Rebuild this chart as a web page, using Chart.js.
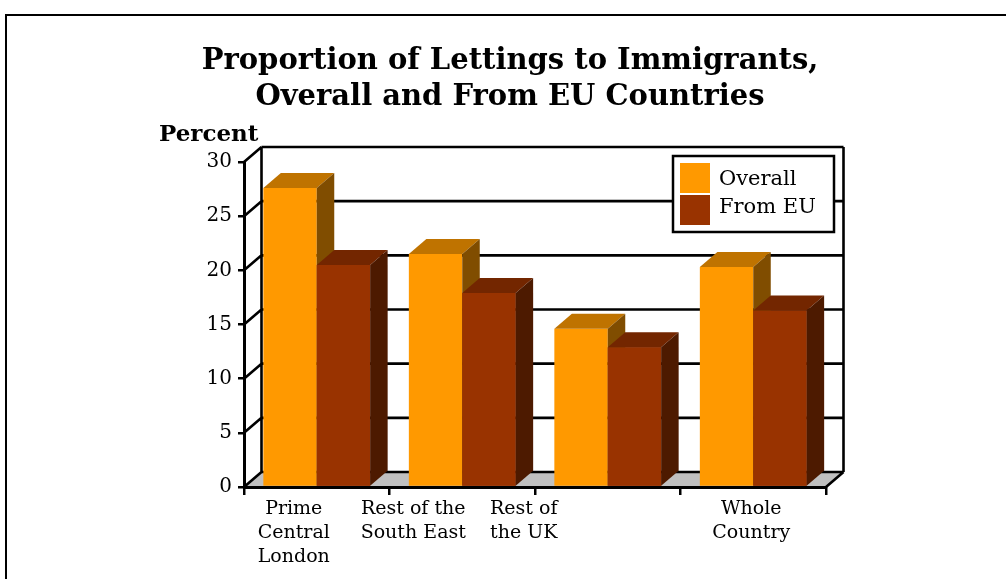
<!DOCTYPE html>
<html>
<head>
<meta charset="utf-8">
<script src="https://cdn.jsdelivr.net/npm/chart.js@4/dist/chart.umd.min.js"></script>
<style>
  html, body { margin: 0; padding: 0; background: #fff; }
</style>
</head>
<body>
<canvas id="chart" width="1006" height="579"></canvas>
<script>
const categories = [["Prime", "Central", "London"], ["Rest of the", "South East"], ["Rest of", "the UK"], ["Whole", "Country"]];
const seriesNames = ["Overall", "From EU"];
const overall = [27.6, 21.5, 14.6, 20.3];
const fromEU = [20.5, 17.9, 12.9, 16.3];
const yTicks = [0, 5, 10, 15, 20, 25, 30];
const titleLines = ["Proportion of Lettings to Immigrants,", "Overall and From EU Countries"];
const yAxisTitle = "Percent";

const colors = ["#ff9900", "#993300"];
const FONT = "DejaVu Serif";
// depth of the fake 3d box
const DX = 17.5, DY = -15;
// the source places its category labels off-centre
const labelNudge = [-23, -49, -84, -2];

function shade(hex, f) {
  const n = parseInt(hex.slice(1), 16);
  const r = Math.round(((n >> 16) & 255) * f);
  const g = Math.round(((n >> 8) & 255) * f);
  const b = Math.round((n & 255) * f);
  return `rgb(${r},${g},${b})`;
}

function drawFaces(ctx, bar, color) {
  const { x, y, base, width } = bar.getProps(["x", "y", "base", "width"], true);
  const l = x - width / 2, r = x + width / 2;
  ctx.fillStyle = shade(color, 0.75);
  ctx.beginPath();
  ctx.moveTo(l, y);
  ctx.lineTo(l + DX, y + DY);
  ctx.lineTo(r + DX, y + DY);
  ctx.lineTo(r, y);
  ctx.closePath();
  ctx.fill();
  ctx.fillStyle = shade(color, 0.5);
  ctx.beginPath();
  ctx.moveTo(r, y);
  ctx.lineTo(r + DX, y + DY);
  ctx.lineTo(r + DX, base + DY);
  ctx.lineTo(r, base);
  ctx.closePath();
  ctx.fill();
}

const boxPlugin = {
  id: "box3d",
  beforeDraw(chart) {
    const { ctx, chartArea: a } = chart;
    const y = chart.scales.y;
    ctx.save();
    // outer frame
    ctx.strokeStyle = "#000";
    ctx.lineWidth = 2;
    ctx.beginPath();
    ctx.moveTo(6, chart.height);
    ctx.lineTo(6, 15);
    ctx.lineTo(chart.width, 15);
    ctx.stroke();
    // floor
    ctx.fillStyle = "#c0c0c0";
    ctx.beginPath();
    ctx.moveTo(a.left, a.bottom);
    ctx.lineTo(a.right, a.bottom);
    ctx.lineTo(a.right + DX, a.bottom + DY);
    ctx.lineTo(a.left + DX, a.bottom + DY);
    ctx.closePath();
    ctx.fill();
    // back wall grid and side wall diagonals
    ctx.lineWidth = 2.6;
    ctx.beginPath();
    yTicks.forEach(v => {
      const py = y.getPixelForValue(v);
      ctx.moveTo(a.left + DX, py + DY);
      ctx.lineTo(a.right + DX, py + DY);
      ctx.moveTo(a.left, py);
      ctx.lineTo(a.left + DX, py + DY);
    });
    ctx.moveTo(a.left + DX, a.top + DY);
    ctx.lineTo(a.left + DX, a.bottom + DY);
    ctx.moveTo(a.right + DX, a.top + DY);
    ctx.lineTo(a.right + DX, a.bottom + DY);
    ctx.moveTo(a.right, a.bottom);
    ctx.lineTo(a.right + DX, a.bottom + DY);
    ctx.stroke();
    ctx.restore();
  },
  afterDatasetsDraw(chart) {
    const ctx = chart.ctx;
    const m0 = chart.getDatasetMeta(0), m1 = chart.getDatasetMeta(1);
    ctx.save();
    categories.forEach((c, i) => {
      drawFaces(ctx, m0.data[i], colors[0]);
      m1.data[i].draw(ctx);
      drawFaces(ctx, m1.data[i], colors[1]);
    });
    ctx.restore();
  },
  afterDraw(chart) {
    const ctx = chart.ctx;
    const x = chart.scales.x;
    ctx.save();
    ctx.fillStyle = "#000";
    ctx.textBaseline = "middle";

    // title
    ctx.textAlign = "center";
    ctx.font = `bold 29px "${FONT}"`;
    ctx.fillText(titleLines[0], 510, 61);
    ctx.fillText(titleLines[1], 510, 97);

    // y axis title
    ctx.textAlign = "left";
    ctx.font = `bold 23px "${FONT}"`;
    ctx.fillText(yAxisTitle, 159, 135);

    // category labels
    ctx.textAlign = "center";
    ctx.font = `19px "${FONT}"`;
    categories.forEach((lines, i) => {
      const cx = x.getPixelForValue(i) + labelNudge[i];
      lines.forEach((t, k) => ctx.fillText(t, cx, 509 + k * 24));
    });

    // legend
    const lx = 673, ly = 156, lw = 161, lh = 76;
    ctx.fillStyle = "#fff";
    ctx.fillRect(lx, ly, lw, lh);
    ctx.strokeStyle = "#000";
    ctx.lineWidth = 2.5;
    ctx.strokeRect(lx, ly, lw, lh);
    ctx.textAlign = "left";
    ctx.font = `21px "${FONT}"`;
    chart.data.datasets.forEach((ds, i) => {
      ctx.fillStyle = ds.backgroundColor;
      ctx.fillRect(lx + 7, ly + 7 + i * 32, 30, 30);
      ctx.fillStyle = "#000";
      ctx.fillText(ds.label, lx + 46, ly + 24 + i * 28);
    });
    ctx.restore();
  }
};

new Chart(document.getElementById("chart"), {
  type: "bar",
  data: {
    labels: categories,
    datasets: [
      {
        label: seriesNames[0],
        data: overall,
        backgroundColor: colors[0],
        borderWidth: 0,
        categoryPercentage: 0.734,
        barPercentage: 1,
      },
      {
        label: seriesNames[1],
        data: fromEU,
        backgroundColor: colors[1],
        borderWidth: 0,
        categoryPercentage: 0.734,
        barPercentage: 1,
      },
    ],
  },
  options: {
    responsive: false,
    animation: false,
    devicePixelRatio: 1,
    layout: { padding: { top: 162, right: 180, left: 0, bottom: 0 } },
    plugins: {
      legend: { display: false },
      tooltip: { enabled: false },
      title: { display: false },
    },
    scales: {
      x: {
        offset: true,
        grid: { offset: true, drawOnChartArea: false, color: "#000", lineWidth: 2.5, tickLength: 8 },
        border: { color: "#000", width: 3 },
        ticks: { display: false },
        afterFit(scale) { scale.height = 92; },
      },
      y: {
        min: 0,
        max: 30,
        ticks: { stepSize: 5, color: "#000", font: { family: FONT, size: 20 }, padding: 6 },
        grid: { drawOnChartArea: false, color: "#000", lineWidth: 2.5, tickLength: 6 },
        border: { color: "#000", width: 3 },
        afterFit(scale) { scale.width = 244; },
      },
    },
  },
  plugins: [boxPlugin],
});
</script>
</body>
</html>
